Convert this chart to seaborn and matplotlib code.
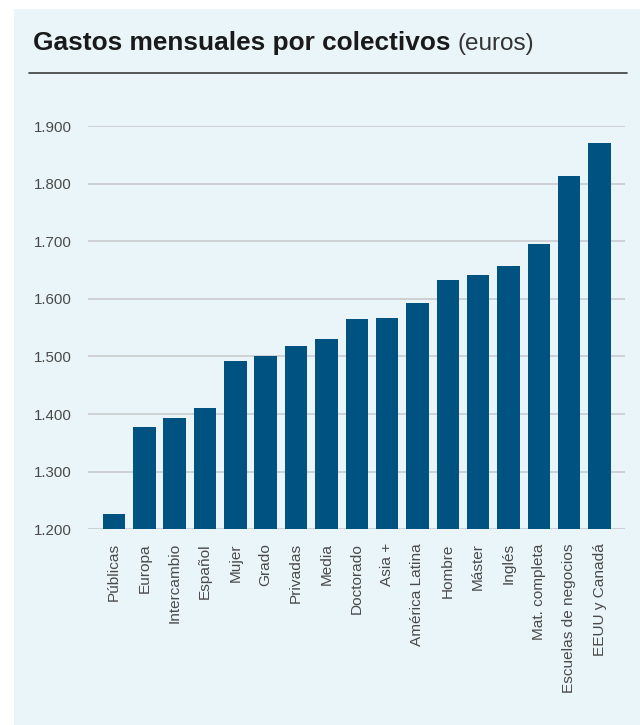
import matplotlib
matplotlib.use("Agg")
import matplotlib.pyplot as plt
import seaborn as sns
import pandas as pd
from matplotlib.patches import Rectangle
from matplotlib.lines import Line2D
from matplotlib.ticker import FuncFormatter

categories = ["Públicas", "Europa", "Intercambio", "Español", "Mujer", "Grado",
              "Privadas", "Media", "Doctorado", "Asia +", "América Latina",
              "Hombre", "Máster", "Inglés", "Mat. completa",
              "Escuelas de negocios", "EEUU y Canadá"]
values = [1227, 1378, 1393, 1411, 1492, 1501, 1518, 1530, 1565, 1567, 1593,
          1633, 1641, 1657, 1695, 1813, 1871]
yticks = [1200, 1300, 1400, 1500, 1600, 1700, 1800, 1900]

sns.set_theme(style="white")
plt.rcParams['font.family'] = ['Liberation Sans', 'DejaVu Sans']

W, H = 640, 725
fig = plt.figure(figsize=(6.4, 7.25), dpi=100, facecolor="white")

panel_color = "#eaf5fa"
fig.add_artist(Rectangle((14 / W, 0), (W - 14) / W, (H - 9) / H,
                         transform=fig.transFigure, facecolor=panel_color,
                         edgecolor="none", zorder=-10))

ax = fig.add_axes([88 / W, (H - 529.3) / H, (625 - 88) / W, (529.3 - 126) / H])
ax.set_zorder(1)
ax.set_facecolor("none")

df = pd.DataFrame({"cat": categories, "val": values})
sns.barplot(data=df, x="cat", y="val", ax=ax, color="#005380", width=0.74,
            saturation=1, linewidth=0, edgecolor="none", zorder=3)

ax.set_ylim(1200, 1900)
ax.set_xlim(-0.857, 16.84)
ax.set_yticks(yticks)
ax.yaxis.set_major_formatter(FuncFormatter(lambda v, p: f"{int(v):,}".replace(",", ".")))
ax.grid(axis="y", color="#cfd2d4", linewidth=1.4, zorder=0)
ax.set_axisbelow(True)
for s in ax.spines.values():
    s.set_visible(False)
ax.set_xlabel("")
ax.set_ylabel("")
ax.tick_params(axis="y", length=0, pad=11.5, labelsize=10.8, labelcolor="#4a4a4a")
ax.tick_params(axis="x", length=0, pad=10.0, labelsize=11.1, labelcolor="#4a4a4a")
for lab in ax.get_xticklabels():
    lab.set_rotation(90)
    lab.set_ha("center")
    lab.set_va("top")

t1 = fig.text(33 / W, (H - 50) / H, "Gastos mensuales por colectivos",
              fontsize=18.9, fontweight="bold", color="#1a1a1a", ha="left", va="baseline")
fig.canvas.draw()
bb = t1.get_window_extent(fig.canvas.get_renderer())
fig.text((bb.x1 + 7) / W, (H - 50) / H, "(euros)", fontsize=17.5, color="#333333",
         ha="left", va="baseline")

fig.add_artist(Line2D([29 / W, 627 / W], [(H - 73) / H, (H - 73) / H],
                      transform=fig.transFigure, color="#3a3a3a", linewidth=1.2))

fig.savefig("out.png", dpi=100, facecolor="white")
